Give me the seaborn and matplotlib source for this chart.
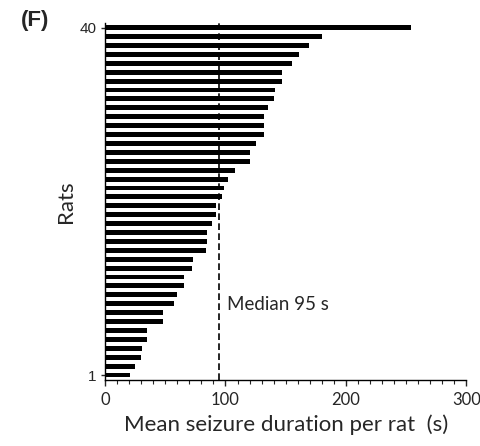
import matplotlib
matplotlib.use("Agg")
import matplotlib.pyplot as plt
from matplotlib.ticker import MultipleLocator
import seaborn as sns
import pandas as pd
import numpy as np

####### Data (rat 40 at top -> rat 1 at bottom) #######
durations_top_down = [254, 180, 169, 161, 155.5, 146.5, 146.5, 141, 140, 135,
                      132, 132, 132, 125, 120, 120, 108, 102, 99, 97,
                      92, 92, 88.5, 85, 85, 84, 73, 72, 65.5, 65.5,
                      60, 57, 48, 48, 35, 34.5, 31, 30, 25, 21]
rats = list(range(40, 0, -1))
median_value = 95
median_label = "Median 95 s"
x_label = "Mean seizure duration per rat  (s)"
y_label = "Rats"
panel_label = "(F)"
x_ticks = [0, 100, 200, 300]
y_ticks = [1, 40]

df = pd.DataFrame({"Rat": rats, "Duration": durations_top_down})

####### Plot #######
sns.set_style("ticks")
plt.rcParams['font.family'] = ['Lato', 'DejaVu Sans']

fig = plt.figure(figsize=(4.8, 4.46), dpi=100)
ax = fig.add_axes([0.21875, 0.148, 0.753, 0.80])

sns.barplot(data=df, x="Duration", y="Rat", orient="h", native_scale=True,
            color="black", width=0.55, edgecolor="none", ax=ax)

# median line + label
ax.axvline(median_value, color="black", linestyle=(0, (4, 2)), linewidth=1.2)
ax.text(median_value + 6, 8.9, median_label, fontsize=13.5, va="center", ha="left")

ax.set_xlim(0, 300)
ax.set_ylim(0.44, 40.5)
ax.set_xticks(x_ticks)
ax.xaxis.set_minor_locator(MultipleLocator(10))
ax.set_yticks(y_ticks)
ax.set_yticklabels([str(t) for t in y_ticks], fontsize=11, family=['Liberation Sans'])
ax.tick_params(axis="x", which="major", length=4, width=1, labelsize=12, pad=5)
ax.tick_params(axis="x", which="minor", length=3, width=0.8)
ax.tick_params(axis="y", which="major", length=3, width=1, pad=3)

for s in ["top", "right"]:
    ax.spines[s].set_visible(False)
for s in ["left", "bottom"]:
    ax.spines[s].set_linewidth(1.0)
    ax.spines[s].set_color("black")

ax.set_xlabel(x_label, fontsize=16, labelpad=4)
ax.set_ylabel(y_label, fontsize=16, labelpad=3)

fig.text(0.044, 0.953, panel_label, fontsize=16, fontweight="bold",
         family=['Liberation Sans'], ha="left", va="center")

fig.savefig("out.png", dpi=100)
